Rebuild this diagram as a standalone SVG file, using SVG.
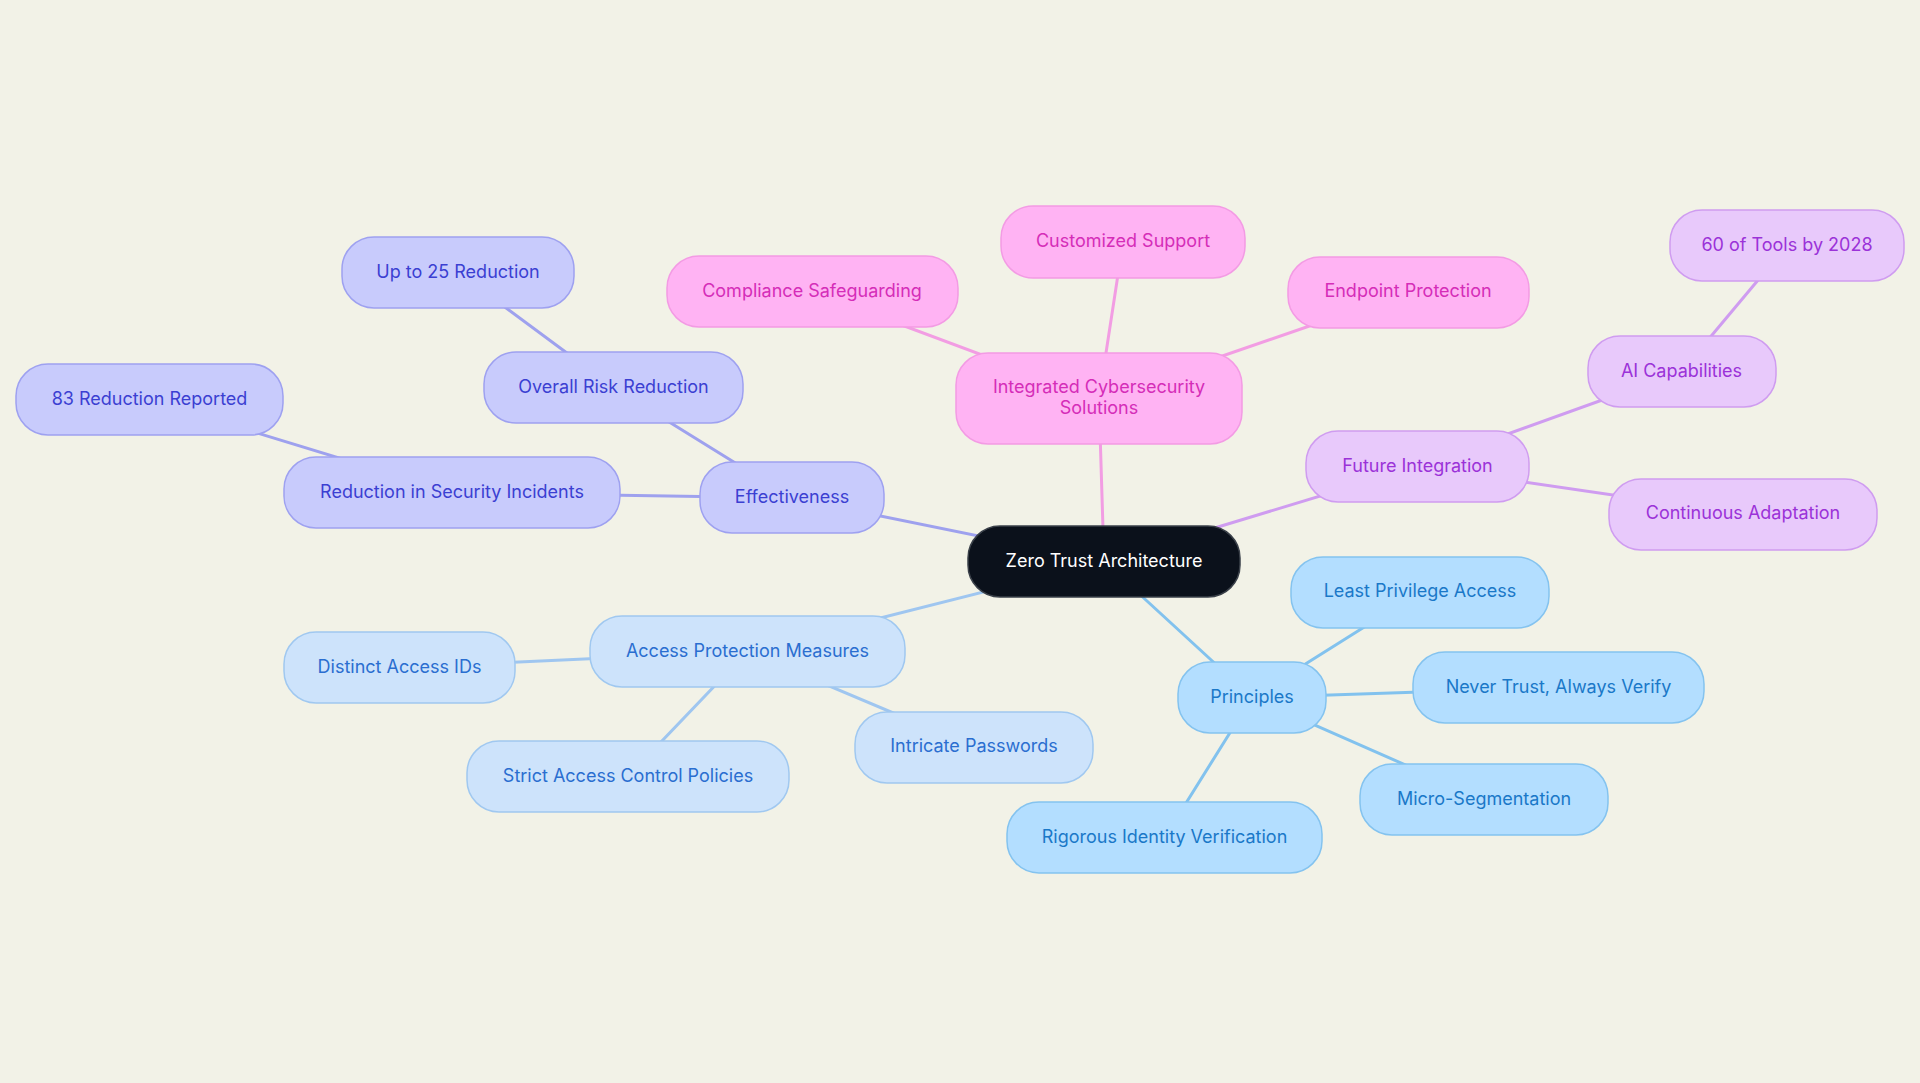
<svg xmlns="http://www.w3.org/2000/svg" width="1920" height="1083" viewBox="0 0 1920 1083">
<style>
text{font-family:Inter,"Noto Sans","Liberation Sans",sans-serif;font-size:18px;text-anchor:middle;dominant-baseline:central}
.c line{stroke-width:3;stroke-linecap:round}
.root rect{fill:#0b111b;stroke:#3a4049;stroke-width:1.5}
.root text{fill:#ffffff}
.eff rect{fill:#c8cbfc;stroke:#9ea1f0;stroke-width:1.5}
.eff text{fill:#3b3fd2}
.ics rect{fill:#ffb3f3;stroke:#f39be4;stroke-width:1.5}
.ics text{fill:#d52db8}
.fi rect{fill:#e8c9fb;stroke:#cf9cf0;stroke-width:1.5}
.fi text{fill:#9b32d8}
.pr rect{fill:#b3deff;stroke:#84c3ef;stroke-width:1.5}
.pr text{fill:#1a78c8}
.ap rect{fill:#cde3fb;stroke:#a0c8f0;stroke-width:1.5}
.ap text{fill:#2a6ed0}
.le{stroke:#9ea1ee}
.li{stroke:#f29de3}
.lf{stroke:#cf9cf0}
.lp{stroke:#82c2ee}
.la{stroke:#9fc6f0}
</style>
<rect width="1920" height="1083" fill="#f2f2e7"/>
<g id="connectors" class="c">
<line class="li" x1="1104" y1="561.5" x2="1099" y2="398.5"/>
<line class="li" x1="1099" y1="398.5" x2="812" y2="291.5"/>
<line class="li" x1="1099" y1="398.5" x2="1123" y2="242"/>
<line class="li" x1="1099" y1="398.5" x2="1408" y2="292"/>
<line class="lf" x1="1104" y1="561.5" x2="1417.5" y2="466.5"/>
<line class="lf" x1="1417.5" y1="466.5" x2="1681.5" y2="371.5"/>
<line class="lf" x1="1681.5" y1="371.5" x2="1787" y2="245.5"/>
<line class="lf" x1="1417.5" y1="466.5" x2="1743" y2="514"/>
<line class="le" x1="1104" y1="561.5" x2="792" y2="498"/>
<line class="le" x1="792" y1="498" x2="452" y2="492.5"/>
<line class="le" x1="452" y1="492.5" x2="149.5" y2="400"/>
<line class="le" x1="792" y1="498" x2="613.5" y2="387.5"/>
<line class="le" x1="613.5" y1="387.5" x2="458" y2="272.5"/>
<line class="la" x1="1104" y1="561.5" x2="747.5" y2="651.5"/>
<line class="la" x1="747.5" y1="651.5" x2="399.5" y2="667.5"/>
<line class="la" x1="747.5" y1="651.5" x2="628" y2="776.5"/>
<line class="la" x1="747.5" y1="651.5" x2="974" y2="747"/>
<line class="lp" x1="1104" y1="561.5" x2="1252" y2="697.5"/>
<line class="lp" x1="1252" y1="697.5" x2="1420" y2="592"/>
<line class="lp" x1="1252" y1="697.5" x2="1558.5" y2="687.5"/>
<line class="lp" x1="1252" y1="697.5" x2="1484" y2="799.5"/>
<line class="lp" x1="1252" y1="697.5" x2="1164.5" y2="837.5"/>
</g>
<g id="n-root" class="root"><rect x="968" y="526" width="272" height="71" rx="32"/><text x="1104" y="560">Zero Trust Architecture</text></g>
<g id="n-ics" class="ics"><rect x="956" y="353" width="286" height="91" rx="32"/><text x="1099" y="386.5">Integrated Cybersecurity</text><text x="1099" y="407">Solutions</text></g>
<g id="n-compliance" class="ics"><rect x="667" y="256" width="291" height="71" rx="32"/><text x="812" y="290">Compliance Safeguarding</text></g>
<g id="n-customized" class="ics"><rect x="1001" y="206" width="244" height="72" rx="32"/><text x="1123" y="240.5">Customized Support</text></g>
<g id="n-endpoint" class="ics"><rect x="1288" y="257" width="241" height="71" rx="32"/><text x="1408" y="290.5">Endpoint Protection</text></g>
<g id="n-future" class="fi"><rect x="1306" y="431" width="223" height="71" rx="32"/><text x="1417.5" y="465">Future Integration</text></g>
<g id="n-ai" class="fi"><rect x="1588" y="336" width="188" height="71" rx="32"/><text x="1681.5" y="370">AI Capabilities</text></g>
<g id="n-tools" class="fi"><rect x="1670" y="210" width="234" height="71" rx="32"/><text x="1787" y="244">60 of Tools by 2028</text></g>
<g id="n-adapt" class="fi"><rect x="1609" y="479" width="268" height="71" rx="32"/><text x="1743" y="512.5">Continuous Adaptation</text></g>
<g id="n-eff" class="eff"><rect x="700" y="462" width="184" height="71" rx="32"/><text x="792" y="496.5">Effectiveness</text></g>
<g id="n-rsi" class="eff"><rect x="284" y="457" width="336" height="71" rx="32"/><text x="452" y="491">Reduction in Security Incidents</text></g>
<g id="n-83" class="eff"><rect x="16" y="364" width="267" height="71" rx="32"/><text x="149.5" y="398.5">83 Reduction Reported</text></g>
<g id="n-overall" class="eff"><rect x="484" y="352" width="259" height="71" rx="32"/><text x="613.5" y="386">Overall Risk Reduction</text></g>
<g id="n-25" class="eff"><rect x="342" y="237" width="232" height="71" rx="32"/><text x="458" y="271">Up to 25 Reduction</text></g>
<g id="n-apm" class="ap"><rect x="590" y="616" width="315" height="71" rx="32"/><text x="747.5" y="650">Access Protection Measures</text></g>
<g id="n-dai" class="ap"><rect x="284" y="632" width="231" height="71" rx="32"/><text x="399.5" y="666">Distinct Access IDs</text></g>
<g id="n-sacp" class="ap"><rect x="467" y="741" width="322" height="71" rx="32"/><text x="628" y="775">Strict Access Control Policies</text></g>
<g id="n-ip" class="ap"><rect x="855" y="712" width="238" height="71" rx="32"/><text x="974" y="745.5">Intricate Passwords</text></g>
<g id="n-principles" class="pr"><rect x="1178" y="662" width="148" height="71" rx="32"/><text x="1252" y="696">Principles</text></g>
<g id="n-lpa" class="pr"><rect x="1291" y="557" width="258" height="71" rx="32"/><text x="1420" y="590.5">Least Privilege Access</text></g>
<g id="n-nt" class="pr"><rect x="1413" y="652" width="291" height="71" rx="32"/><text x="1558.5" y="686">Never Trust, Always Verify</text></g>
<g id="n-ms" class="pr"><rect x="1360" y="764" width="248" height="71" rx="32"/><text x="1484" y="798">Micro-Segmentation</text></g>
<g id="n-riv" class="pr"><rect x="1007" y="802" width="315" height="71" rx="32"/><text x="1164.5" y="836">Rigorous Identity Verification</text></g>
</svg>
